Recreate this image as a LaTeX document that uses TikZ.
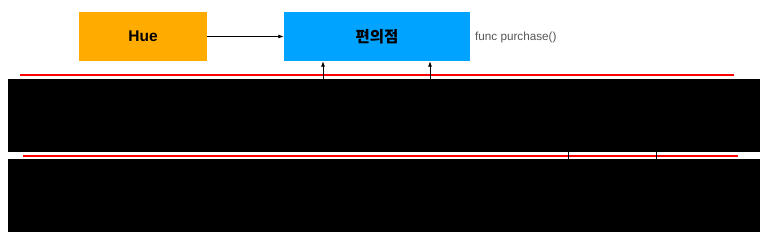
\documentclass[tikz,border=0pt]{standalone}
\usepackage{fontspec}
\setmainfont{Liberation Sans}
\newfontfamily\kofont{Noto Sans CJK KR}
\usetikzlibrary{arrows.meta}
\definecolor{hueorange}{HTML}{FFAB00}
\definecolor{storeblue}{HTML}{00A3FF}
\definecolor{labelgray}{HTML}{555555}
\begin{document}
\begin{tikzpicture}[x=1pt,y=-1pt,
  box/.style={draw=none,minimum width=128pt,minimum height=49pt,inner sep=0pt,font=\bfseries\fontsize{15.5}{18}\selectfont},
  redact/.style={fill=black,draw=none,inner sep=0pt},
  redline/.style={draw=red,line width=2pt},
  conn/.style={draw=black,line width=0.8pt,-{Latex[length=5.5pt,width=4pt]}},
  plain/.style={draw=black,line width=0.8pt}]
\useasboundingbox (0,0) rectangle (772,246);
\node[box,fill=hueorange,minimum width=128pt] (hue) at (143,36.5) {Hue};
\node[box,fill=storeblue,minimum width=186pt] (store) at (377,36.5) {\kofont\bfseries 편의점};
\node[anchor=west,text=labelgray,font=\fontsize{11.7}{14}\selectfont,inner sep=0pt] (func) at (475,37) {func purchase()};
\node[redact,minimum width=752pt,minimum height=73pt] (r1) at (384,115.5) {};
\node[redact,minimum width=752pt,minimum height=73pt] (r2) at (384,195.5) {};
\coordinate (red1a) at (20,75.5);
\coordinate (red1b) at (734,75.5);
\coordinate (red2a) at (23,155.7);
\coordinate (red2b) at (738,155.7);
\draw[redline] (red1a) -- (red1b);
\draw[redline] (red2a) -- (red2b);
\draw[conn] (hue.east) -- (store.west);
\coordinate (u1) at (323,0);
\coordinate (u2) at (430,0);
\draw[conn] (u1 |- r1.north) -- (u1 |- store.south);
\draw[conn] (u2 |- r1.north) -- (u2 |- store.south);
\coordinate (v1) at (568,0);
\coordinate (v2) at (656,0);
\draw[plain] (v1 |- r1.south) -- (v1 |- r2.north);
\draw[plain] (v2 |- r1.south) -- (v2 |- r2.north);
\end{tikzpicture}
\end{document}
